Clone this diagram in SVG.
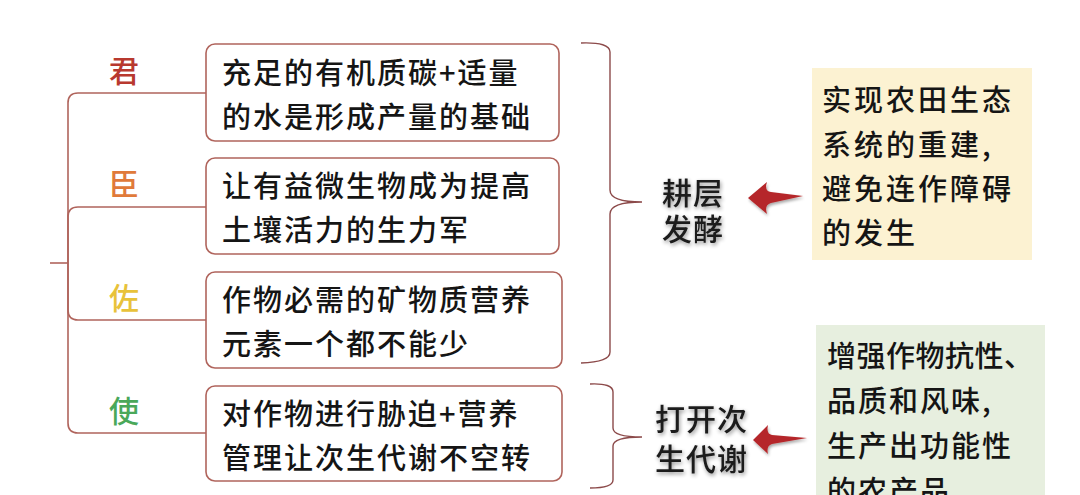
<svg xmlns="http://www.w3.org/2000/svg" width="1080" height="495" viewBox="0 0 1080 495">
<defs>
<filter id="glow" x="-20%" y="-20%" width="140%" height="140%">
<feGaussianBlur in="SourceAlpha" stdDeviation="2.2" result="b"/>
<feOffset dx="1" dy="2" in="b" result="o"/>
<feComponentTransfer in="o" result="s"><feFuncA type="linear" slope="0.45"/></feComponentTransfer>
<feMerge><feMergeNode in="s"/><feMergeNode in="SourceGraphic"/></feMerge>
</filter>
<filter id="ashadow" x="-20%" y="-30%" width="140%" height="160%">
<feGaussianBlur in="SourceAlpha" stdDeviation="1.5"/>
<feOffset dx="1" dy="2" result="o"/>
<feComponentTransfer><feFuncA type="linear" slope="0.35"/></feComponentTransfer>
<feMerge><feMergeNode/><feMergeNode in="SourceGraphic"/></feMerge>
</filter>
</defs>
<style>
.box{fill:#fff;stroke:#b0645c;stroke-width:1.6}
.t{font-family:"Noto Sans CJK SC","Noto Sans",sans-serif;font-size:29px;font-weight:500;fill:#151515;letter-spacing:2px}
.lab{font-family:"Noto Sans CJK SC",sans-serif;font-size:30px;font-weight:500;text-anchor:middle}
.line{fill:none;stroke:#b0645c;stroke-width:1.6}
.brace{fill:none;stroke:#8c4a4a;stroke-width:1.4}
.arrow{fill:#b5282a}
.big{font-family:"Noto Sans CJK SC",sans-serif;font-size:30px;font-weight:500;fill:#1a1a1a;letter-spacing:1px}
</style>
<rect width="1080" height="495" fill="#fff"/>

<g id="connectors">
<path class="line" d="M50,263 H68"/>
<path class="line" d="M68,263 V103 Q68,93 78,93 H206"/>
<path class="line" d="M68,263 V217 Q68,207 78,207 H206"/>
<path class="line" d="M68,263 V310 Q68,320 78,320 H206"/>
<path class="line" d="M68,263 V423 Q68,433 78,433 H206"/>
<path class="brace" d="M581,43 Q610,42 610,52 V190 Q610,202 642,202 Q610,202 610,214 V352 Q610,362 581,363"/>
<path class="brace" d="M590,384 Q613,383 613,392 V428 Q613,437 642,437 Q613,437 613,446 V480 Q613,488 590,488"/>
<path class="arrow" filter="url(#ashadow)" d="M748,198 L767,182 Q764,191 771,192 L803,196 L771,203 Q764,205 767,214 Z"/>
<path class="arrow" filter="url(#ashadow)" d="M753,440 L768,425 Q766,434 772,435 L807,438 L772,444 Q766,446 768,454 Z"/>
</g>

<g id="jun">
<text class="lab" x="124" y="82" fill="#b8392f">君</text>
</g>
<g id="chen">
<text class="lab" x="124" y="195" fill="#e07a3a">臣</text>
</g>
<g id="zuo">
<text class="lab" x="124" y="309" fill="#e8c23a">佐</text>
</g>
<g id="shi">
<text class="lab" x="124" y="422" fill="#4aa85a">使</text>
</g>

<g id="box1">
<rect class="box" x="206" y="44" width="353" height="97" rx="9"/>
<text class="t" x="222" y="84">充足的有机质碳+适量</text>
<text class="t" x="222" y="128">的水是形成产量的基础</text>
</g>
<g id="box2">
<rect class="box" x="206" y="158" width="353" height="96" rx="9"/>
<text class="t" x="222" y="197">让有益微生物成为提高</text>
<text class="t" x="222" y="241">土壤活力的生力军</text>
</g>
<g id="box3">
<rect class="box" x="206" y="272" width="356" height="96" rx="9"/>
<text class="t" x="222" y="311">作物必需的矿物质营养</text>
<text class="t" x="222" y="355">元素一个都不能少</text>
</g>
<g id="box4">
<rect class="box" x="206" y="386" width="356" height="95" rx="9"/>
<text class="t" x="222" y="425">对作物进行胁迫+营养</text>
<text class="t" x="222" y="469">管理让次生代谢不空转</text>
</g>

<g id="gengceng" filter="url(#glow)">
<text class="big" x="662" y="204">耕层</text>
<text class="big" x="662" y="240">发酵</text>
</g>
<g id="dakai" filter="url(#glow)">
<text class="big" x="655" y="430">打开次</text>
<text class="big" x="655" y="470">生代谢</text>
</g>

<g id="yellow">
<rect x="812" y="68" width="220" height="192" fill="#fcf2d2"/>
<text class="t" x="822" y="111" style="letter-spacing:3px">实现农田生态</text>
<text class="t" x="822" y="156" style="letter-spacing:3px">系统的重建,</text>
<text class="t" x="822" y="200" style="letter-spacing:3px">避免连作障碍</text>
<text class="t" x="822" y="244" style="letter-spacing:3px">的发生</text>
</g>
<g id="green">
<rect x="816" y="325" width="229" height="175" fill="#e7efdf"/>
<text class="t" x="827" y="367" style="letter-spacing:0.5px">增强作物抗性、</text>
<text class="t" x="827" y="412" style="letter-spacing:2px">品质和风味,</text>
<text class="t" x="827" y="457" style="letter-spacing:2px">生产出功能性</text>
<text class="t" x="827" y="502" style="letter-spacing:2px">的农产品</text>
</g>
</svg>
